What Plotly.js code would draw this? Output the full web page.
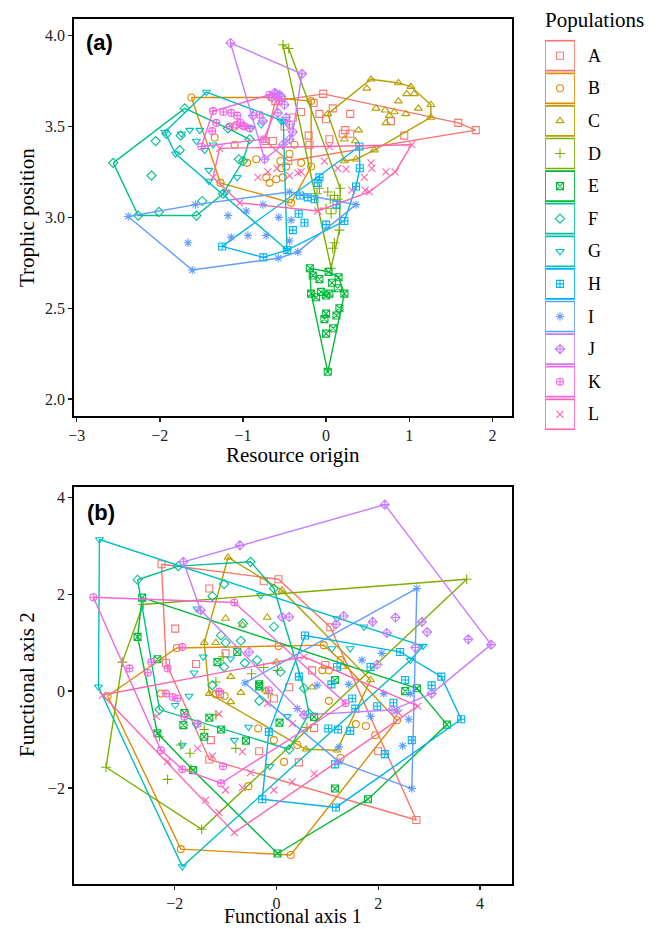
<!DOCTYPE html>
<html><head><meta charset="utf-8">
<script src="https://cdn.plot.ly/plotly-3.0.1.min.js"></script>
<style>html,body{margin:0;padding:0;background:#fff}#chart{width:662px;height:929px}</style>
</head><body><div id="chart"></div>
<script>
const populations = ['A','B','C','D','E','F','G','H','I','J','K','L'];
const colors = ['#F8766D','#DE8C00','#B79F00','#7CAE00','#00BA38','#00C08B','#00BFC4','#00B4F0','#619CFF','#C77CFF','#F564E3','#FF64B0'];
const symbols = ['square-open','circle-open','triangle-up-open','cross-thin-open','square-x-open','diamond-open','triangle-down-open','square-cross-open','asterisk-open','diamond-cross-open','circle-cross-open','x-thin-open'];

// Panel (a): [resource origin, trophic position]
const a_A = [[-0.035,3.68],[1.59,3.52],[1.80,3.48],[0.94,3.45],[-0.455,3.31],[-0.73,3.42],[-0.61,3.64],[0.08,3.60],[0.29,3.57],[-0.08,3.57],[0.00,3.54],[-0.30,3.58],[0.23,3.48],[0.29,3.46],[0.20,3.46],[0.04,3.43],[-0.21,3.45],[0.78,3.53],[-0.50,3.50],[-0.40,3.55],[-0.20,3.40],[-0.64,3.42],[-0.15,3.63]];
const a_B = [[-1.62,3.66],[-0.18,3.64],[-0.18,3.28],[-0.42,3.08],[-1.27,3.19],[-0.66,3.66],[-1.34,3.44],[-1.10,3.40],[-0.84,3.32],[-0.72,3.22],[-0.60,3.21],[-0.55,3.31],[-0.54,3.27],[-0.68,3.19],[-0.44,3.35],[-0.48,3.28],[-0.52,3.22],[-0.95,3.30],[-1.10,3.50],[-0.30,3.30],[-0.38,3.40]];
const a_C = [[0.54,3.76],[0.87,3.74],[1.02,3.72],[1.26,3.62],[1.26,3.55],[0.58,3.37],[0.36,3.32],[0.22,3.31],[0.02,3.57],[0.49,3.71],[0.97,3.68],[1.06,3.68],[0.87,3.64],[1.11,3.60],[0.60,3.60],[0.71,3.59],[0.82,3.58],[0.96,3.57],[0.76,3.56],[0.72,3.52],[0.39,3.48],[0.22,3.43],[0.35,3.42]];
const a_D = [[-0.52,3.95],[-0.45,3.93],[0.17,3.16],[0.06,2.72],[-0.11,3.13],[0.06,3.02],[0.16,2.93],[0.10,2.86],[0.08,2.83],[-0.08,3.16],[0.10,3.12],[0.05,3.10],[0.00,3.05],[0.14,3.10],[0.02,3.14],[0.12,3.05]];
const a_E = [[-0.195,2.72],[0.03,2.70],[0.15,2.67],[0.22,2.58],[0.16,2.50],[0.02,2.15],[-0.18,2.58],[-0.16,2.68],[-0.08,2.66],[0.07,2.64],[0.14,2.61],[-0.06,2.59],[0.04,2.58],[0.00,2.57],[-0.12,2.56],[0.00,2.47],[-0.02,2.44],[0.125,2.46],[0.085,2.39],[0.00,2.36]];
const a_F = [[-2.56,3.30],[-1.70,3.60],[-0.92,3.43],[-1.00,3.31],[-1.24,3.13],[-1.56,3.01],[-2.26,3.01],[-2.05,3.42],[-2.10,3.23],[-1.75,3.45],[-1.76,3.37],[-1.92,3.46],[-2.01,3.03],[-1.49,3.09],[-1.18,3.49],[-1.05,3.32]];
const a_G = [[-1.44,3.69],[-1.94,3.47],[-1.81,3.35],[-1.20,3.14],[-0.47,2.82],[-0.515,3.53],[-1.74,3.46],[-1.64,3.48],[-1.52,3.48],[-1.56,3.42],[-1.46,3.37],[-1.36,3.40],[-1.41,3.26],[-1.07,3.22],[-1.41,3.20],[-0.78,3.51],[-0.90,3.49],[-0.54,3.53]];
const a_H = [[-1.25,2.84],[-0.755,2.78],[-0.467,2.82],[0.22,2.98],[0.36,3.17],[0.40,3.39],[0.405,3.27],[-0.08,3.22],[-0.10,3.19],[-0.315,3.12],[-0.22,3.11],[-0.14,3.10],[-0.33,3.02],[-0.26,2.97],[-0.40,2.93],[0.00,2.96],[0.125,3.07]];
const a_I = [[-2.38,3.005],[-1.61,2.71],[-0.575,2.775],[0.36,3.07],[-0.44,3.14],[-1.57,3.07],[-1.66,2.86],[-1.18,3.01],[-0.96,3.035],[-0.94,2.90],[-0.72,2.90],[-0.57,3.00],[-1.14,2.89],[-0.76,3.07],[-0.42,2.985],[-0.44,2.87],[-0.34,2.81]];
const a_J = [[-1.15,3.96],[-0.29,3.79],[-0.74,3.32],[-0.40,3.47],[-0.62,3.685],[-0.56,3.675],[-0.58,3.575],[-0.48,3.55],[-0.44,3.51],[-0.76,3.53],[-0.88,3.56],[-0.44,3.43],[-0.52,3.40],[-0.60,3.68],[-0.54,3.665],[-0.65,3.66],[-0.50,3.62]];
const a_K = [[-1.36,3.585],[-1.50,3.39],[-0.56,3.64],[-0.75,3.43],[-1.235,3.58],[-1.14,3.575],[-1.07,3.56],[-1.00,3.505],[-0.92,3.49],[-1.08,3.51],[-1.32,3.52],[-1.37,3.475],[-0.68,3.675],[-0.80,3.565],[-1.16,3.50],[-1.03,3.52],[-0.98,3.50]];
const a_L = [[1.03,3.40],[0.83,3.25],[0.52,3.14],[-0.10,3.035],[-1.04,3.08],[-1.36,3.22],[-1.28,3.38],[-0.02,3.31],[0.14,3.27],[0.24,3.265],[0.54,3.30],[0.55,3.27],[0.46,3.22],[0.72,3.25],[0.31,3.15],[0.47,3.15],[-0.30,3.25],[0.04,3.39],[-0.82,3.22],[-0.70,3.25],[-0.59,3.27],[-0.44,3.23],[-0.34,3.245]];

// Panel (b): [functional axis 1, functional axis 2]
const b_A = [[-2.26,2.62],[0.04,2.31],[1.06,1.32],[2.75,-2.66],[-1.32,-1.41],[-2.17,0.58],[-1.32,2.12],[-1.99,1.29],[-0.25,2.27],[-1.0,0.78],[-1.58,0.56],[-1.29,-1.01],[-1.11,-0.06],[-0.34,-1.24],[-0.05,-0.15],[2.0,-1.24],[0.44,-1.47],[0.74,-0.76],[0.25,0.08],[0.96,0.54],[0.70,0.43]];
const b_B = [[-1.96,0.89],[0.93,0.95],[2.37,-0.60],[0.28,-3.38],[-1.88,-3.26],[-3.32,-0.10],[0.04,0.93],[-1.02,-0.10],[-1.20,-0.06],[-0.36,-0.77],[-0.05,-1.01],[-0.55,-1.96],[-2.27,-0.05],[1.03,-0.20],[1.56,-0.68],[1.76,-0.72],[1.94,-0.91],[1.26,-1.38],[0.15,-1.46],[0.41,-1.11],[1.26,0.64],[0.90,0.43],[1.03,0.43]];
const b_C = [[-0.95,2.76],[0.11,2.08],[1.85,0.23],[1.19,-1.22],[0.58,-1.20],[-1.32,-0.05],[-1.42,1.0],[-1.0,1.5],[-0.67,1.36],[-1.19,1.0],[-0.90,0.30],[-0.18,1.52],[-0.90,-0.22],[-0.70,-0.03],[-0.21,0.02],[0.70,0.08],[1.30,0.50],[0.0,0.6]];
const b_D = [[-2.62,1.79],[3.74,2.31],[-1.47,-2.85],[-3.35,-1.57],[-3.03,0.60],[-1.05,0.71],[-1.19,0.19],[-0.49,0.36],[-0.25,0.49],[0.02,0.43],[-1.42,-0.79],[-1.19,-0.49],[-1.88,-1.11],[-1.70,-1.28],[-0.80,-1.18],[-2.14,-1.82],[-1.68,-1.61],[-2.30,-0.94],[-0.16,-0.05],[0.60,-0.75]];
const b_E = [[-2.64,1.93],[2.76,0.06],[3.35,-0.69],[1.80,-2.23],[0.02,-3.35],[-2.34,-0.87],[-2.73,1.12],[-2.34,0.66],[-1.16,0.60],[-0.77,0.81],[-0.34,0.14],[-1.81,-0.45],[-1.83,-0.70],[-1.32,-0.55],[-1.42,-0.94],[-1.09,-0.79],[-0.60,-1.02],[-1.64,-1.63],[-0.34,0.10],[0.06,-0.65],[1.15,-2.01],[0.74,-0.53],[1.15,0.23],[2.53,0.0]];
const b_F = [[-2.73,2.30],[-1.93,2.58],[-0.51,2.67],[-0.05,2.12],[0.54,0.06],[0.64,-0.46],[0.25,-1.20],[-2.30,-0.38],[-1.03,2.21],[-1.26,1.96],[-0.66,1.40],[-0.05,1.33],[-1.09,1.15],[-0.70,1.04],[-1.0,1.0],[-0.38,0.64],[-0.62,0.58],[-1.03,0.50],[0.08,0.40],[-0.34,-0.20],[-1.26,0.12]];
const b_G = [[-3.48,3.13],[-3.50,0.09],[-1.85,-3.62],[2.88,0.93],[-0.31,1.98],[-1.56,1.70],[-1.62,0.38],[-1.44,0.71],[-0.90,0.67],[1.19,1.50],[1.72,1.33],[1.45,0.88],[2.63,0.64],[1.09,0.88],[-1.72,-0.10],[-1.99,-0.29],[-1.85,-1.11],[-1.58,-0.70],[-0.83,-1.01],[-0.55,-0.74],[-0.13,-1.55],[0.21,-0.52]];
const b_H = [[0.56,1.15],[2.43,0.81],[3.24,0.30],[3.63,-0.58],[1.17,-2.40],[-0.28,-2.23],[-0.15,-0.84],[1.19,0.50],[1.85,0.50],[1.08,0.14],[2.53,0.23],[3.05,0.12],[0.44,0.30],[1.49,-0.15],[1.55,-0.36],[1.98,-0.31],[2.30,-0.24],[1.02,-0.77],[1.21,-0.79],[1.45,-0.82],[2.66,-1.01],[2.13,-1.30],[1.15,-1.51]];
const b_I = [[2.76,2.12],[2.66,-2.01],[1.23,-1.46],[-0.62,0.17],[1.68,0.64],[2.07,0.78],[0.80,0.12],[1.42,0.14],[1.85,-0.52],[2.11,-0.05],[2.37,-0.41],[2.60,-0.58],[2.48,-1.13],[1.23,-1.15],[0.41,-0.36],[2.63,-0.05]];
const b_J = [[2.13,3.85],[4.22,0.96],[3.05,-0.05],[2.27,-0.39],[0.54,-0.49],[-1.49,1.67],[-1.83,2.67],[-0.72,3.01],[0.11,1.53],[0.25,1.53],[1.32,1.55],[1.17,1.38],[1.89,1.43],[2.34,1.52],[2.17,1.20],[2.86,1.43],[2.96,1.22],[2.73,0.90],[3.77,1.07],[1.98,0.55],[-0.54,0.81]];
const b_K = [[-3.60,1.94],[-0.83,1.83],[1.36,-0.25],[-1.09,-1.90],[-2.27,-1.22],[-2.89,0.47],[-2.53,0.38],[-2.14,0.47],[-2.46,0.60],[-1.85,0.91],[-2.17,-0.05],[-2.04,-0.12],[-1.95,-0.15],[-1.81,-0.53],[-1.55,-0.67],[-1.85,-1.61],[-1.05,-1.55],[-1.13,-0.01],[-0.15,0.02]];
const b_L = [[-3.42,-0.08],[0.54,0.71],[2.78,-0.31],[-0.83,-2.92],[-2.36,-0.52],[-1.55,-1.18],[-2.14,-1.45],[-1.39,-2.25],[-1.13,-2.50],[-1.13,-0.47],[-1.0,-2.04],[-0.67,-1.99],[-0.51,-1.68],[-0.18,-0.25],[-0.67,-1.25],[-0.05,-2.04],[-1.26,-1.34],[0.31,-1.87],[0.74,-1.70],[0.31,-0.67],[2.40,-0.45]];

const panelA = [a_A,a_B,a_C,a_D,a_E,a_F,a_G,a_H,a_I,a_J,a_K,a_L];
const panelB = [b_A,b_B,b_C,b_D,b_E,b_F,b_G,b_H,b_I,b_J,b_K,b_L];

function convexHull(pts){
  const p = pts.map(q=>[q[0],q[1]]).sort((a,b)=>a[0]-b[0]||a[1]-b[1]);
  const cross=(o,a,b)=>(a[0]-o[0])*(b[1]-o[1])-(a[1]-o[1])*(b[0]-o[0]);
  const lower=[];
  for(const q of p){while(lower.length>=2&&cross(lower[lower.length-2],lower[lower.length-1],q)<=0)lower.pop();lower.push(q);}
  const upper=[];
  for(let i=p.length-1;i>=0;i--){const q=p[i];while(upper.length>=2&&cross(upper[upper.length-2],upper[upper.length-1],q)<=0)upper.pop();upper.push(q);}
  upper.pop();lower.pop();
  const h=lower.concat(upper); h.push(h[0]); return h;
}

const SERIF = 'Liberation Serif, Times New Roman, serif';
const traces = [];
function addPanel(data, xa, ya){
  data.forEach((pts,i)=>{
    const h = convexHull(pts);
    traces.push({type:'scatter',mode:'lines',x:h.map(q=>q[0]),y:h.map(q=>q[1]),xaxis:xa,yaxis:ya,
      line:{color:colors[i],width:1.4},hoverinfo:'skip',showlegend:false});
    traces.push({type:'scatter',mode:'markers',x:pts.map(q=>q[0]),y:pts.map(q=>q[1]),xaxis:xa,yaxis:ya,
      name:populations[i],showlegend:false,
      marker:{symbol:symbols[i],size:7,color:colors[i],line:{color:colors[i],width:1.1}}});
  });
}
addPanel(panelA,'x','y');
addPanel(panelB,'x2','y2');

// legend keys
traces.push({type:'scatter',mode:'markers',x:populations.map(()=>0),y:populations.map((_,i)=>i),xaxis:'x3',yaxis:'y3',
  showlegend:false,hoverinfo:'skip',
  marker:{symbol:symbols,size:7,color:colors,line:{color:colors,width:1.1}}});

const axBase = {showgrid:false,zeroline:false,showline:true,mirror:true,linecolor:'#000',linewidth:1.8,
  ticks:'outside',ticklen:4,tickwidth:1.4,tickcolor:'#222',tickfont:{family:SERIF,size:16,color:'#222'}};

const shapes = populations.map((p,i)=>({type:'rect',xref:'x3',yref:'y3',x0:-0.5,x1:0.5,y0:i-0.46,y1:i+0.46,
  line:{color:colors[i],width:1.7},fillcolor:'rgba(0,0,0,0)'}));

const px = v=>(v-74)/583, py = v=>(884-v)/865;
const annotations = [
  {text:'Resource origin',xref:'paper',yref:'paper',x:px(293),y:py(455),showarrow:false,xanchor:'center',yanchor:'middle',font:{family:SERIF,size:21,color:'#000'}},
  {text:'Functional axis 1',xref:'paper',yref:'paper',x:px(293),y:py(929),showarrow:false,xanchor:'center',yanchor:'bottom',font:{family:SERIF,size:20,color:'#000'}},
  {text:'Trophic position',xref:'paper',yref:'paper',x:px(27),y:py(218),textangle:-90,showarrow:false,xanchor:'center',yanchor:'middle',font:{family:SERIF,size:21,color:'#000'}},
  {text:'Functional axis 2',xref:'paper',yref:'paper',x:px(27),y:py(685),textangle:-90,showarrow:false,xanchor:'center',yanchor:'middle',font:{family:SERIF,size:21,color:'#000'}},
  {text:'<b>(a)</b>',xref:'paper',yref:'paper',x:px(84),y:py(43),showarrow:false,xanchor:'left',yanchor:'middle',font:{family:'Liberation Sans, Arial, sans-serif',size:22,color:'#000'}},
  {text:'<b>(b)</b>',xref:'paper',yref:'paper',x:px(85),y:py(512),showarrow:false,xanchor:'left',yanchor:'middle',font:{family:'Liberation Sans, Arial, sans-serif',size:22,color:'#000'}},
  {text:'Populations',xref:'paper',yref:'paper',x:px(543),y:py(20),showarrow:false,xanchor:'left',yanchor:'middle',font:{family:SERIF,size:21,color:'#000'}}
].concat(populations.map((p,i)=>({text:p,xref:'x3',yref:'y3',x:0.5,y:i,xshift:11,showarrow:false,xanchor:'left',yanchor:'middle',font:{family:SERIF,size:18,color:'#000'}})));

const layout = {
  width:662,height:929,margin:{l:74,r:5,t:19,b:45},paper_bgcolor:'#fff',plot_bgcolor:'#fff',showlegend:false,
  xaxis:Object.assign({},axBase,{domain:[0,0.7513],range:[-3.032,2.236],tickvals:[-3,-2,-1,0,1,2],anchor:'y'}),
  yaxis:Object.assign({},axBase,{domain:[0.5405,1],range:[1.904,4.092],tickvals:[2,2.5,3,3.5,4],tickformat:'.1f',anchor:'x'}),
  xaxis2:Object.assign({},axBase,{domain:[0,0.7513],range:[-3.98,4.63],tickvals:[-2,0,2,4],anchor:'y2'}),
  yaxis2:Object.assign({},axBase,{domain:[0,0.4593],range:[-3.98,4.22],tickvals:[-2,0,2,4],anchor:'x2'}),
  xaxis3:{domain:[px(545),px(575)],range:[-0.5,0.5],visible:false,fixedrange:true,anchor:'y3'},
  yaxis3:{domain:[py(430.6),py(39.4)],range:[11.5,-0.5],visible:false,fixedrange:true,anchor:'x3'},
  shapes:shapes,annotations:annotations
};
Plotly.newPlot('chart',traces,layout,{displayModeBar:false,staticPlot:true});
</script>
</body></html>
